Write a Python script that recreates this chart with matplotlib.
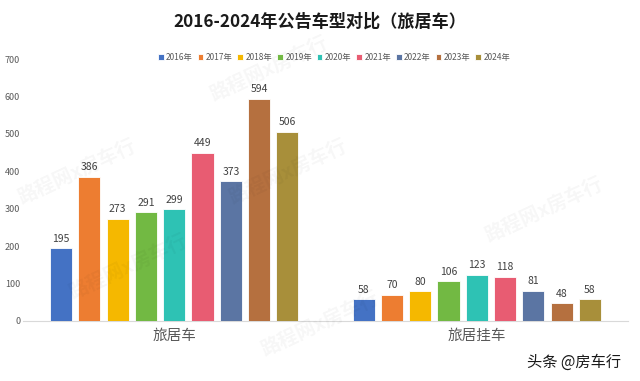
import numpy as np
import matplotlib.pyplot as plt

plt.rcParams['font.family'] = ['Noto Sans CJK SC', 'DejaVu Sans']

categories = ['旅居车', '旅居挂车']
years = ['2016年', '2017年', '2018年', '2019年', '2020年', '2021年', '2022年', '2023年', '2024年']
motorhome = [195, 386, 273, 291, 299, 449, 373, 594, 506]
trailer = [58, 70, 80, 106, 123, 118, 81, 48, 58]
colors = ['#4472C4', '#ED7D31', '#F5B800', '#72B943', '#2EC2B4',
          '#E85C72', '#5B75A3', '#B5703F', '#A88F3A']

fig = plt.figure(figsize=(6.4, 3.81), dpi=100)
ax = fig.add_axes([23 / 640, 60 / 381, 605 / 640, 262 / 381])

x = np.arange(len(categories))
n = len(years)
pitch = 0.0935
width = 0.073
for i, yr in enumerate(years):
    vals = [motorhome[i], trailer[i]]
    pos = x + (i - (n - 1) / 2) * pitch
    ax.bar(pos, vals, width, color=colors[i], edgecolor='white', linewidth=0.6,
           label=yr, zorder=3)
    for p, v in zip(pos, vals):
        ax.text(p, v + 12, str(v), ha='center', va='bottom', fontsize=7.5, color='#404040')

ax.set_xlim(-0.5, 1.5)
ax.set_ylim(0, 700)
ax.set_yticks(range(0, 701, 100))
ax.tick_params(axis='y', length=0, labelsize=6.5, labelcolor='#595959', pad=2)
ax.set_xticks(x)
ax.set_xticklabels(categories, fontsize=10.5, color='#595959')
ax.tick_params(axis='x', length=0, pad=6)
for s in ['top', 'right', 'left']:
    ax.spines[s].set_visible(False)
ax.spines['bottom'].set_color('#D9D9D9')

fig.text(0.5, 0.942, '2016-2024年公告车型对比（旅居车）', ha='center', va='center',
         fontsize=12.3, fontweight='bold', color='#1a1a1a')
fig.legend(loc='center', bbox_to_anchor=(0.522, 0.85), ncol=9, fontsize=6,
           frameon=False, handlelength=0.7, handleheight=0.7, handletextpad=0.3,
           columnspacing=0.55, labelcolor='#595959')

# 水印
for wx, wy in [(0.42, 0.82), (0.45, 0.55), (0.2, 0.3), (0.5, 0.15), (0.85, 0.45), (0.12, 0.55)]:
    fig.text(wx, wy, '路程网x房车行', fontsize=14, rotation=25, color='#000000', alpha=0.035,
             ha='center', va='center', fontweight='bold')

fig.text(0.97, 0.05, '头条 @房车行', ha='right', va='center', fontsize=11, color='#1a1a1a')

fig.savefig('out.png', dpi=100)
